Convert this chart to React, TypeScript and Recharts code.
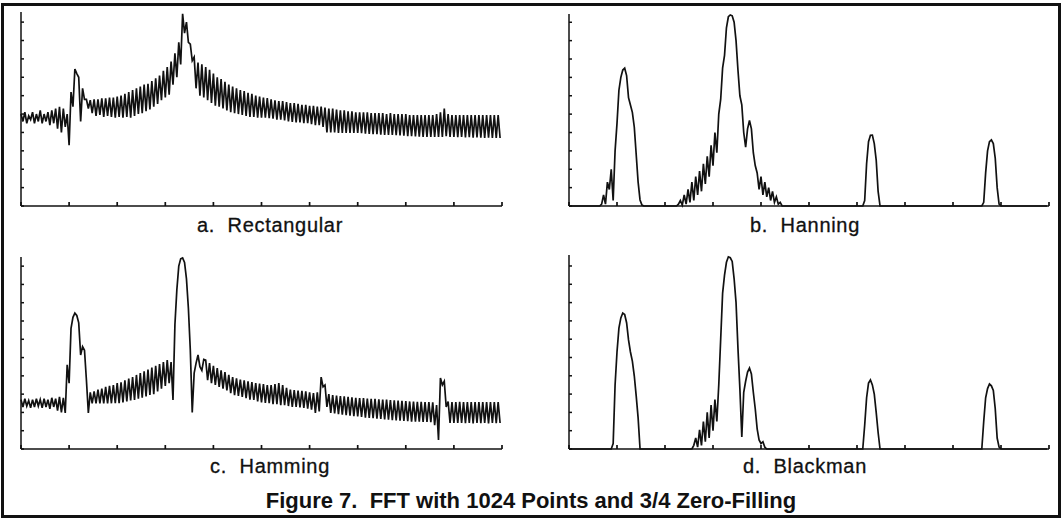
import { Line, LineChart, XAxis, YAxis } from "recharts";

// frequency axis: 10 divisions, trace sampled every 4 units
const xTicks = [0, 100, 200, 300, 400, 500, 600, 700, 800, 900, 1000];
const yTicks = [0, 1, 2, 3, 4, 5, 6, 7, 8, 9, 10];
const sampleStep = 4;

// magnitude traces (values in y-divisions)
const rectangular = [
  5.0, 4.6, 5.1, 4.5, 4.9, 4.7, 5.1, 4.5, 5.0, 4.6,
  5.2, 4.5, 5.0, 4.6, 5.1, 4.4, 5.2, 4.5, 5.3, 4.2,
  5.4, 4.0, 5.3, 4.3, 5.0, 3.3, 6.2, 5.4, 7.45, 7.2,
  7.0, 4.6, 6.4, 5.8, 5.8, 5.3, 5.76, 5.05, 5.8, 4.9,
  5.8, 4.95, 5.85, 4.85, 5.85, 4.9, 5.9, 4.85, 5.9, 4.8,
  5.95, 4.85, 6.0, 4.8, 6.1, 4.85, 6.2, 4.8, 6.3, 4.9,
  6.4, 5.0, 6.5, 5.05, 6.6, 5.15, 6.65, 5.25, 6.8, 5.4,
  6.95, 5.55, 7.1, 5.75, 7.35, 5.9, 7.55, 6.05, 7.85, 6.6,
  8.3, 7.0, 8.9, 7.7, 10.45, 9.4, 10.0, 8.9, 8.8, 7.9,
  8.1, 6.4, 7.8, 6.0, 7.7, 5.9, 7.55, 5.75, 7.4, 5.6,
  7.2, 5.45, 7.0, 5.4, 6.9, 5.3, 6.75, 5.2, 6.6, 5.1,
  6.5, 5.05, 6.4, 5.0, 6.3, 4.95, 6.25, 4.9, 6.15, 4.85,
  6.1, 4.85, 6.0, 4.8, 5.95, 4.8, 5.9, 4.8, 5.87, 4.78,
  5.8, 4.75, 5.75, 4.7, 5.7, 4.7, 5.7, 4.65, 5.65, 4.6,
  5.6, 4.57, 5.6, 4.55, 5.55, 4.55, 5.5, 4.5, 5.5, 4.5,
  5.45, 4.45, 5.45, 4.4, 5.4, 4.4, 5.4, 4.3, 5.35, 4.0,
  5.3, 4.0, 5.3, 4.0, 5.25, 3.98, 5.2, 3.97, 5.2, 3.97,
  5.15, 3.97, 5.15, 3.97, 5.1, 3.97, 5.1, 3.96, 5.1, 3.94,
  5.1, 3.92, 5.05, 3.9, 5.05, 3.9, 5.05, 3.88, 5.05, 3.87,
  5.0, 3.86, 5.05, 3.86, 5.0, 3.85, 5.0, 3.84, 5.0, 3.82,
  5.0, 3.8, 4.95, 3.8, 4.95, 3.78, 4.95, 3.77, 4.95, 3.76,
  4.95, 3.75, 4.95, 3.75, 4.95, 3.75, 5.0, 3.75, 5.1, 3.76,
  5.3, 3.8, 5.0, 3.75, 4.95, 3.75, 4.95, 3.74, 4.95, 3.75,
  4.95, 3.73, 4.95, 3.74, 4.95, 3.72, 4.95, 3.73, 4.95, 3.72,
  4.95, 3.7, 4.95, 3.72, 4.95, 3.7, 4.95, 3.7, 4.95, 3.7,
];

const hanning = [
  0, 0, 0, 0, 0, 0, 0, 0, 0, 0,
  0, 0, 0, 0, 0, 0, 0, 0.1, 0.6, 0.1,
  1.3, 0.9, 2.0, 0.3, 3.0, 4.5, 6.3, 7.0, 7.4, 7.5,
  7.1, 5.9, 5.5, 5.1, 4.3, 2.8, 1.3, 0.33, 0.05, 0,
  0, 0, 0, 0, 0, 0, 0, 0, 0, 0,
  0, 0, 0, 0, 0, 0, 0, 0.1, 0.3, 0.05,
  0.6, 0.1, 0.9, 0.2, 1.3, 0.3, 1.6, 0.6, 1.9, 0.8,
  2.3, 1.2, 2.7, 1.6, 3.3, 2.2, 4.0, 2.9, 5.0, 5.8,
  7.5, 8.2, 9.7, 10.3, 10.4, 10.35, 10.0, 9.0, 7.4, 6.0,
  5.5, 4.0, 3.2, 4.2, 4.65, 4.2, 2.9, 2.2, 1.8, 0.9,
  1.6, 0.6, 1.3, 0.5, 1.0, 0.3, 0.8, 0.2, 0.5, 0.1,
  0.2, 0, 0, 0, 0, 0, 0, 0, 0, 0,
  0, 0, 0, 0, 0, 0, 0, 0, 0, 0,
  0, 0, 0, 0, 0, 0, 0, 0, 0, 0,
  0, 0, 0, 0, 0, 0, 0, 0, 0, 0,
  0, 0, 0, 0, 0.3, 2.3, 3.5, 3.85, 3.86, 3.4,
  2.5, 0.8, 0, 0, 0, 0, 0, 0, 0, 0,
  0, 0, 0, 0, 0, 0, 0, 0, 0, 0,
  0, 0, 0, 0, 0, 0, 0, 0, 0, 0,
  0, 0, 0, 0, 0, 0, 0, 0, 0, 0,
  0, 0, 0, 0, 0, 0, 0, 0, 0, 0,
  0, 0, 0, 0, 0, 0, 0.2, 1.8, 3.0, 3.5,
  3.6, 3.4, 2.6, 1.0, 0.1, 0, 0, 0, 0, 0,
  0, 0, 0, 0, 0, 0, 0, 0, 0, 0,
  0, 0, 0, 0, 0, 0, 0, 0, 0, 0,
];

const hamming = [
  2.7, 2.3, 2.75, 2.35, 2.65, 2.25, 2.7, 2.3, 2.75, 2.35,
  2.7, 2.25, 2.75, 2.3, 2.7, 2.2, 2.8, 2.3, 2.75, 2.1,
  2.85, 2.0, 2.8, 1.97, 4.6, 3.6, 6.6, 7.2, 7.43, 7.3,
  6.9, 5.14, 5.6, 5.4, 3.77, 1.97, 3.1, 2.5, 3.15, 2.5,
  3.25, 2.5, 3.3, 2.5, 3.4, 2.5, 3.45, 2.5, 3.5, 2.5,
  3.6, 2.5, 3.65, 2.55, 3.75, 2.6, 3.85, 2.65, 3.93, 2.68,
  4.05, 2.75, 4.15, 2.8, 4.25, 2.88, 4.35, 2.95, 4.45, 3.0,
  4.55, 3.15, 4.65, 3.3, 4.75, 3.45, 4.86, 3.6, 4.75, 2.68,
  6.8, 8.7, 10.0, 10.4, 10.45, 10.2, 9.3, 7.7, 5.4, 2.0,
  4.15, 4.7, 5.14, 4.5, 4.3, 4.9, 4.86, 3.77, 4.7, 3.6,
  4.55, 3.5, 4.42, 3.39, 4.3, 3.3, 4.2, 3.2, 4.05, 3.05,
  3.93, 2.95, 3.87, 2.9, 3.8, 2.85, 3.75, 2.78, 3.7, 2.7,
  3.66, 2.68, 3.6, 2.6, 3.58, 2.55, 3.55, 2.52, 3.5, 2.5,
  3.5, 2.45, 3.55, 2.45, 3.6, 2.4, 3.5, 2.4, 3.35, 2.35,
  3.25, 2.3, 3.22, 2.3, 3.2, 2.28, 3.18, 2.25, 3.15, 2.2,
  3.1, 2.15, 3.06, 1.97, 3.1, 2.05, 3.93, 3.4, 3.5, 2.3,
  3.0, 1.97, 2.95, 1.95, 2.92, 1.9, 2.9, 1.88, 2.88, 1.85,
  2.85, 1.82, 2.83, 1.8, 2.8, 1.78, 2.79, 1.75, 2.78, 1.72,
  2.76, 1.7, 2.75, 1.68, 2.74, 1.66, 2.72, 1.64, 2.7, 1.62,
  2.7, 1.6, 2.68, 1.58, 2.66, 1.56, 2.65, 1.55, 2.63, 1.53,
  2.62, 1.52, 2.6, 1.5, 2.6, 1.5, 2.58, 1.49, 2.58, 1.48,
  2.57, 1.48, 2.57, 1.47, 2.55, 1.3, 2.4, 0.5, 3.88, 3.5,
  3.7, 2.3, 2.6, 1.42, 2.57, 1.42, 2.57, 1.43, 2.58, 1.42,
  2.56, 1.41, 2.57, 1.42, 2.57, 1.4, 2.56, 1.42, 2.57, 1.41,
  2.57, 1.42, 2.56, 1.4, 2.57, 1.42, 2.57, 1.41, 2.57, 1.42,
];

const blackman = [
  0, 0, 0, 0, 0, 0, 0, 0, 0, 0,
  0, 0, 0, 0, 0, 0, 0, 0, 0, 0,
  0, 0, 0, 0.3, 3.5, 5.3, 6.6, 7.16, 7.43, 7.35,
  6.9, 5.96, 5.3, 4.8, 4.0, 2.9, 1.7, 0, 0, 0,
  0, 0, 0, 0, 0, 0, 0, 0, 0, 0,
  0, 0, 0, 0, 0, 0, 0, 0, 0, 0,
  0, 0, 0, 0, 0, 0.2, 0.6, 0.1, 1.05, 0.2,
  1.5, 0.4, 2.0, 0.6, 2.4, 1.0, 2.7, 1.5, 3.5, 6.0,
  8.5, 9.5, 10.2, 10.5, 10.45, 10.25, 9.3, 8.0, 5.5, 3.3,
  0.66, 3.1, 3.7, 4.2, 4.42, 4.1, 3.1, 2.2, 1.1, 0.5,
  0.3, 0.4, 0.1, 0, 0, 0, 0, 0, 0, 0,
  0, 0, 0, 0, 0, 0, 0, 0, 0, 0,
  0, 0, 0, 0, 0, 0, 0, 0, 0, 0,
  0, 0, 0, 0, 0, 0, 0, 0, 0, 0,
  0, 0, 0, 0, 0, 0, 0, 0, 0, 0,
  0, 0, 0, 0, 1.3, 2.8, 3.6, 3.77, 3.5, 3.0,
  2.0, 0.9, 0, 0, 0, 0, 0, 0, 0, 0,
  0, 0, 0, 0, 0, 0, 0, 0, 0, 0,
  0, 0, 0, 0, 0, 0, 0, 0, 0, 0,
  0, 0, 0, 0, 0, 0, 0, 0, 0, 0,
  0, 0, 0, 0, 0, 0, 0, 0, 0, 0,
  0, 0, 0, 0, 0, 0, 1.5, 2.8, 3.3, 3.55,
  3.45, 3.2, 2.2, 0.6, 0.1, 0, 0, 0, 0, 0,
  0, 0, 0, 0, 0, 0, 0, 0, 0, 0,
  0, 0, 0, 0, 0, 0, 0, 0, 0, 0,
];

const panelLabels = ["a.  Rectangular", "b.  Hanning", "c.  Hamming", "d.  Blackman"];
const caption = "Figure 7.  FFT with 1024 Points and 3/4 Zero-Filling";

const INK = "#111";
const FONT = "'Liberation Sans', Arial, Helvetica, sans-serif";

const noTick = () => <g />;

function Spectrum({ values, left, top, width, height, yMax }: {
  values: number[]; left: number; top: number; width: number; height: number; yMax: number;
}) {
  const data = values.map((v, i) => ({ f: i * sampleStep, v }));
  const pad = 5;
  return (
    <div style={{ position: "absolute", left: left - pad, top: top - pad }}>
      <LineChart width={width + 2 * pad} height={height + 2 * pad} data={data} margin={{ top: pad, right: pad, bottom: pad, left: pad }}>
        <XAxis
          dataKey="f"
          type="number"
          domain={[0, 1000]}
          ticks={xTicks}
          interval={0}
          height={1}
          mirror
          tick={noTick}
          tickSize={4}
          stroke={INK}
          strokeWidth={1.7}
        />
        <YAxis
          type="number"
          domain={[0, yMax]}
          ticks={yTicks}
          interval={0}
          width={1}
          mirror
          tick={noTick}
          tickSize={3}
          stroke={INK}
          strokeWidth={1.5}
        />
        <Line type="linear" dataKey="v" stroke={INK} strokeWidth={1.7} dot={false} isAnimationActive={false} />
      </LineChart>
    </div>
  );
}

export default function App() {
  return (
    <div style={{ position: "absolute", left: 0, top: 0, width: 1062, height: 518, background: "#fff", overflow: "hidden" }}>
      <svg width={1062} height={518} style={{ position: "absolute", left: 0, top: 0 }}>
        <rect x={2.5} y={4.5} width={1057} height={512} fill="none" stroke={INK} strokeWidth={3} />
        <g fontFamily={FONT} fontSize={20} fill={INK} stroke={INK} strokeWidth={0.3} letterSpacing={0.7} textAnchor="middle">
          <text x={270} y={232} xmlSpace="preserve">{panelLabels[0]}</text>
          <text x={805} y={232} xmlSpace="preserve">{panelLabels[1]}</text>
          <text x={270} y={473} xmlSpace="preserve">{panelLabels[2]}</text>
          <text x={805} y={473} xmlSpace="preserve">{panelLabels[3]}</text>
        </g>
        <text x={531} y={508} fontFamily={FONT} fontSize={22} fontWeight="bold" fill={INK} textAnchor="middle" xmlSpace="preserve">
          {caption}
        </text>
      </svg>
      <Spectrum values={rectangular} left={21} top={12} width={481} height={194} yMax={10.55} />
      <Spectrum values={hanning} left={569} top={14} width={480} height={192} yMax={10.45} />
      <Spectrum values={hamming} left={21} top={257} width={481} height={192} yMax={10.5} />
      <Spectrum values={blackman} left={569} top={255} width={480} height={194} yMax={10.6} />
    </div>
  );
}
